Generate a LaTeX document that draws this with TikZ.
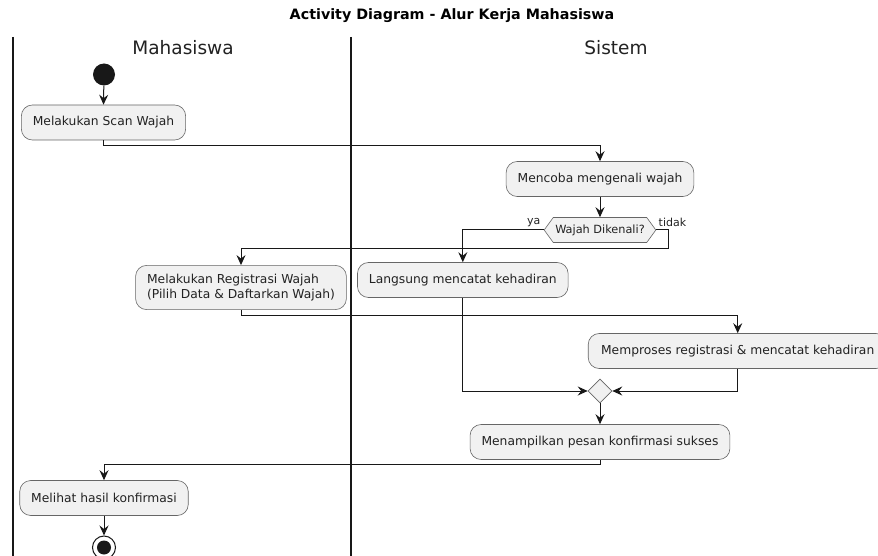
\documentclass[tikz,border=0pt]{standalone}
\usepackage{fontspec}
\setmainfont{DejaVu Sans}
\usetikzlibrary{arrows.meta,shapes.geometric,shapes.symbols}
\definecolor{boxfill}{HTML}{F1F1F1}
\definecolor{ink}{HTML}{181818}
\definecolor{txt}{HTML}{222222}
\begin{document}
\begin{tikzpicture}[x=1pt,y=-1pt,
  actbox/.style={draw=black!60, line width=0.6pt, fill=boxfill, rounded corners=11pt,
    minimum height=35pt, inner xsep=11.5pt, inner ysep=9pt, text=txt,
    font=\fontsize{12.3}{14.3}\selectfont},
  flow/.style={draw=ink, line width=1pt, -{Stealth[length=10pt,width=9pt,inset=3.5pt]}},
  lane/.style={draw=ink, line width=1.3pt},
  lanetitle/.style={text=txt, font=\fontsize{18.5}{20}\selectfont},
  guard/.style={text=txt, font=\fontsize{11}{12}\selectfont},
]
\useasboundingbox (0,0) rectangle (878,556);
\fill[white] (0,0) rectangle (878,556);

% title and swimlanes
\node[text=black, font=\bfseries\fontsize{14.3}{16}\selectfont] (title) at (452,16) {Activity Diagram - Alur Kerja Mahasiswa};
\draw[lane] (13,37) -- (13,556);
\draw[lane] (351,37) -- (351,556);
\node[lanetitle] (laneA) at (183,48) {Mahasiswa};
\node[lanetitle] (laneB) at (616,48) {Sistem};

% nodes
\node[circle, fill=ink, minimum size=22pt, inner sep=0pt] (start) at (104,74.5) {};
\node[actbox] (scan) at (103.5,122.5) {Melakukan Scan Wajah};
\node[actbox] (coba) at (600,179) {Mencoba mengenali wajah};
\node[shape=signal, signal to=west and east, signal pointer angle=108,
      draw=black!60, line width=0.6pt, fill=boxfill, text=txt,
      inner xsep=2pt, inner ysep=4pt, minimum height=25pt,
      font=\fontsize{11.3}{13}\selectfont] (dec) at (600,230) {Wajah Dikenali?};
\node[actbox, align=left] (reg) at (241,287.5) {Melakukan Registrasi Wajah\\(Pilih Data \& Daftarkan Wajah)};
\node[actbox] (lang) at (462.8,280) {Langsung mencatat kehadiran};
\node[actbox, minimum width=299pt] (proses) at (737.7,351) {Memproses registrasi \& mencatat kehadiran};
\node[diamond, draw=black!60, line width=0.6pt, fill=boxfill, minimum width=24pt, minimum height=24pt, inner sep=0pt] (merge) at (600,391) {};
\node[actbox] (tampil) at (600,442) {Menampilkan pesan konfirmasi sukses};
\node[actbox] (lihat) at (104,498) {Melihat hasil konfirmasi};
\node[circle, draw=ink, line width=1pt, fill=white, minimum size=23pt, inner sep=0pt] (stop) at (104,547.5) {};
\node[circle, fill=ink, minimum size=14pt, inner sep=0pt] (stopdot) at (stop.center) {};

% guards
\node[guard, anchor=south east] (ya) at (dec.west) {ya};
\node[guard, anchor=south west, xshift=-1pt] (tidak) at (dec.east) {tidak};

% connectors
\draw[flow] (start) -- (scan.north);
\draw[flow] (scan.south) -- ++(0,5) -| (coba.north);
\draw[flow] (coba.south) -- (dec.north);
\draw[flow] (dec.west) -| (lang.north);
\draw[flow] (dec.east) -- ++(12,0) -- ++(0,18) -| (reg.north);
\draw[flow] (reg.south) -- ++(0,5.5) -| (proses.north);
\draw[flow] (lang.south) |- (merge.west);
\draw[flow] (proses.south) |- (merge.east);
\draw[flow] (merge.south) -- (tampil.north);
\draw[flow] (tampil.south) -- ++(0,5) -| (lihat.north);
\draw[flow] (lihat.south) -- (stop.north);
\end{tikzpicture}
\end{document}
